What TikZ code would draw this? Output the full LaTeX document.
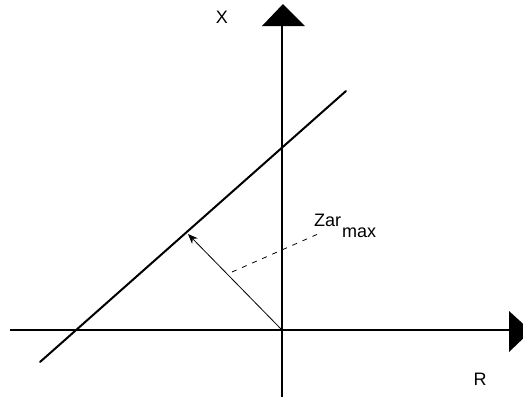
\documentclass[tikz,border=0pt]{standalone}
\usepackage{fontspec}
\setmainfont{Liberation Sans}
\usetikzlibrary{arrows.meta}
\begin{document}
\begin{tikzpicture}[x=1pt,y=-1pt,
  axis/.style={line width=1.6pt},
  lbl/.style={font=\fontsize{18}{18}\selectfont, inner sep=0pt}]
\useasboundingbox (0,0) rectangle (523,397);
% axes
\coordinate (O) at (282,330);
\coordinate (hL) at (10,330);
\coordinate (hR) at (509,330);
\coordinate (vT) at (282,26);
\coordinate (vB) at (282,397);
\draw[axis] (hL) -- (hR);
\draw[axis] (vB) -- (vT);
\fill (509,311) -- (531,331) -- (509,352) -- cycle;
\fill (262,26) -- (283,4) -- (305,26) -- cycle;
% diagonal line
\coordinate (L1) at (40,362);
\coordinate (L2) at (346,91);
\draw[line width=2pt, line cap=round] (L1) -- (L2);
% perpendicular arrow
\coordinate (P) at (188,234);
\draw[line width=0.8pt, -{Stealth[length=10pt,width=8pt]}] (O) -- (P);
% labels
\node[lbl, anchor=base west] (zar) at (314,226)
  {Zar\hspace{1pt}\raisebox{-11pt}{max}};
\node[lbl] (X) at (222,17) {X};
\node[lbl] (R) at (480,379) {R};
% dashed leader
\coordinate (d1) at (232,272);
\coordinate (dz) at (318,234);
\draw[line width=0.8pt, dash pattern=on 5pt off 6pt] (d1) -- (dz);
\end{tikzpicture}
\end{document}
